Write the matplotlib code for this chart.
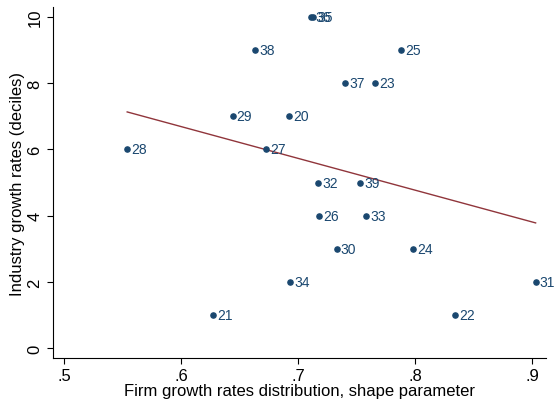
import numpy as np
import matplotlib.pyplot as plt

plt.rcParams['font.family'] = ['Liberation Sans', 'DejaVu Sans']

# shape parameter and growth decile, one entry per industry
shape = [0.554, 0.644, 0.692, 0.673, 0.717, 0.753, 0.663, 0.711, 0.713, 0.740,
         0.766, 0.788, 0.718, 0.758, 0.733, 0.798, 0.693, 0.627, 0.834, 0.903]
decile = [6, 7, 7, 6, 5, 5, 9, 10, 10, 8, 8, 9, 4, 4, 3, 3, 2, 1, 1, 2]
labels = ['28', '29', '20', '27', '32', '39', '38', '36', '35', '37',
          '23', '25', '26', '33', '30', '24', '34', '21', '22', '31']

navy = '#1a476f'
maroon = '#90353b'

fig = plt.figure(figsize=(5.56, 4.02), dpi=100)
ax = fig.add_axes([0.0953, 0.107, 0.887, 0.873])

x = np.array(shape)
y = np.array(decile)
ax.scatter(x, y, s=14, color=navy, zorder=3)
for xi, yi, lab in zip(x, y, labels):
    ax.annotate(lab, (xi, yi), xytext=(3, 0), textcoords='offset points',
                va='center', ha='left', fontsize=10, color=navy)

# linear fit over the range of the data
b, a = np.polyfit(x, y, 1)
xs = np.array([x.min(), x.max()])
ax.plot(xs, a + b * xs, color=maroon, lw=1)

ax.set_xlim(0.4906, 0.912)
ax.set_ylim(-0.30, 10.30)
ax.set_xticks([0.5, 0.6, 0.7, 0.8, 0.9])
ax.set_xticklabels(['.5', '.6', '.7', '.8', '.9'])
ax.set_yticks([0, 2, 4, 6, 8, 10])
ax.tick_params(axis='y', labelrotation=90)
for t in ax.get_yticklabels():
    t.set_va('center')
ax.tick_params(labelsize=12, length=4, width=0.8)
ax.spines['top'].set_visible(False)
ax.spines['right'].set_visible(False)
ax.set_xlabel('Firm growth rates distribution, shape parameter', fontsize=12, labelpad=0)
ax.set_ylabel('Industry growth rates (deciles)', fontsize=12, labelpad=2)

fig.savefig('out.png', dpi=100)
